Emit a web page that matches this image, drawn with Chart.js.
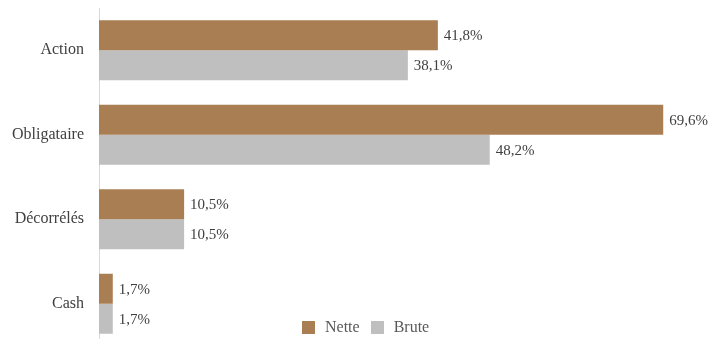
<!DOCTYPE html>
<html>
<head>
<meta charset="utf-8">
<script src="https://cdn.jsdelivr.net/npm/chart.js@4/dist/chart.umd.min.js"></script>
<style>
html,body{margin:0;padding:0;background:#fff;overflow:hidden;}
#wrap{position:relative;width:716px;height:339px;overflow:hidden;}
#c{position:absolute;left:0;top:0;}
#legend{position:absolute;left:302px;top:318px;font-family:"Liberation Serif",serif;font-size:16px;color:#595959;display:flex;align-items:center;white-space:nowrap;}
#legend .sw{display:inline-block;width:13px;height:13px;margin-right:10px;}
#legend .it{display:flex;align-items:center;margin-right:11px;}
</style>
</head>
<body>
<div id="wrap">
<canvas id="c" width="716" height="346" style="width:716px;height:346px;"></canvas>
<div id="legend"></div>
</div>
<script>
const categories = ["Action", "Obligataire", "Décorrélés", "Cash"];
const nette = [41.8, 69.6, 10.5, 1.7];
const brute = [38.1, 48.2, 10.5, 1.7];
const seriesNames = ["Nette", "Brute"];
const colors = ["#A97E52", "#BFBFBF"];

const FONT = '"Liberation Serif", serif';

const labelPlugin = {
  id: 'valueLabels',
  afterDatasetsDraw(chart) {
    const ctx = chart.ctx;
    ctx.save();
    ctx.font = '15px ' + FONT;
    ctx.fillStyle = '#404040';
    ctx.textBaseline = 'middle';
    ctx.textAlign = 'left';
    chart.data.datasets.forEach((ds, i) => {
      const meta = chart.getDatasetMeta(i);
      meta.data.forEach((bar, j) => {
        const v = ds.data[j];
        const txt = v.toFixed(1).replace('.', ',') + '%';
        ctx.fillText(txt, bar.x + 6, bar.y + 1);
      });
    });
    ctx.restore();
  }
};

new Chart(document.getElementById('c'), {
  type: 'bar',
  data: {
    labels: categories,
    datasets: [
      { label: seriesNames[0], data: nette, backgroundColor: colors[0], borderWidth: 0 },
      { label: seriesNames[1], data: brute, backgroundColor: colors[1], borderWidth: 0 }
    ]
  },
  options: {
    indexAxis: 'y',
    responsive: false,
    maintainAspectRatio: false,
    animation: false,
    devicePixelRatio: 1,
    layout: { padding: { top: 8, bottom: 0, right: 9, left: 0 } },
    datasets: { bar: { categoryPercentage: 0.71, barPercentage: 1.0 } },
    scales: {
      x: { display: false, min: 0, max: 75 },
      y: {
        afterFit(scale) { scale.width = 99; scale.paddingTop = 0; scale.paddingBottom = 0; },
        grid: { display: false, drawTicks: false },
        border: { display: true, color: '#D9D9D9', width: 1 },
        ticks: { color: '#404040', padding: 15, font: { family: FONT, size: 16 } }
      }
    },
    plugins: {
      legend: { display: false },
      tooltip: { enabled: false }
    }
  },
  plugins: [labelPlugin]
});

const lg = document.getElementById('legend');
seriesNames.forEach((n, i) => {
  const it = document.createElement('span');
  it.className = 'it';
  const sw = document.createElement('span');
  sw.className = 'sw';
  sw.style.background = colors[i];
  it.appendChild(sw);
  it.appendChild(document.createTextNode(n));
  lg.appendChild(it);
});
</script>
</body>
</html>
